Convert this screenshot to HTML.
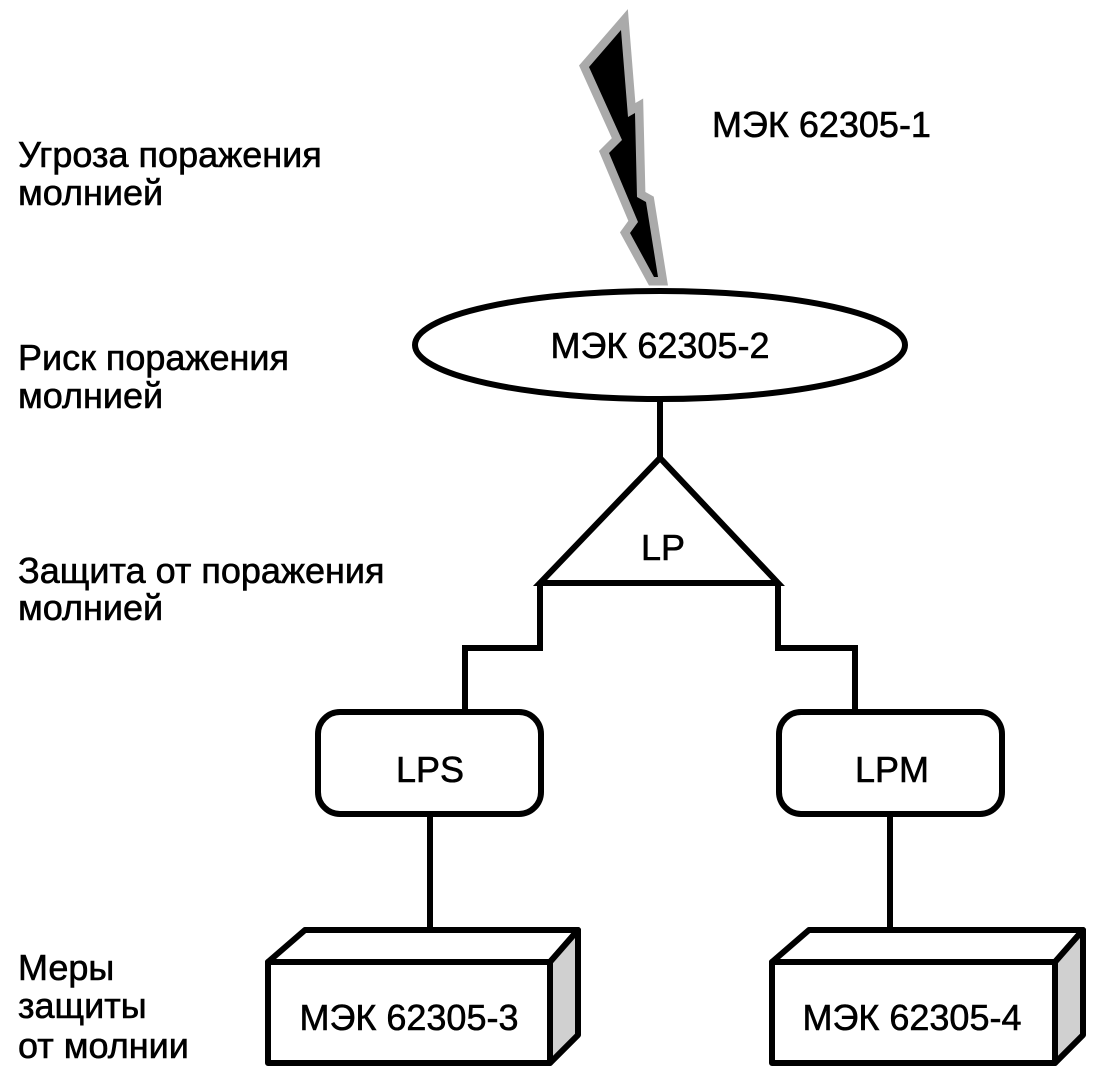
<!DOCTYPE html>
<html><head><meta charset="utf-8"><style>
html,body{margin:0;padding:0;background:#fff;}
svg{display:block;}
text{font-family:"Liberation Sans",Arial,sans-serif;font-size:36px;fill:#000;stroke:#000;stroke-width:0.6px;}
</style></head><body>
<svg width="1099" height="1075" viewBox="0 0 1099 1075" xmlns="http://www.w3.org/2000/svg">
<polygon points="621,30 589,67 622,140 609,153 638,222 630,233 654,277 658,277 646,202 637,197 635,113 628,117" fill="#aaa" stroke="#aaa" stroke-width="17" stroke-linejoin="miter" stroke-miterlimit="3"/>
<polygon points="621,30 589,67 622,140 609,153 638,222 630,233 654,277 658,277 646,202 637,197 635,113 628,117" fill="#000"/>
<ellipse cx="660" cy="345" rx="245" ry="54" fill="#fff" stroke="#000" stroke-width="6"/>
<text x="660" y="358" text-anchor="middle">МЭК 62305-2</text>
<text x="712" y="137">МЭК 62305-1</text>
<g stroke="#000" stroke-width="6" fill="none">
<line x1="660" y1="400" x2="660" y2="460"/>
<polygon points="660,458 540,583 778,583" stroke-linejoin="miter" fill="#fff"/>
<polyline points="540,583 540,648 465,648 465,712"/>
<polyline points="778,583 778,648 855,648 855,712"/>
<rect x="318" y="712" width="223" height="102" rx="22"/>
<rect x="779" y="712" width="223" height="102" rx="22"/>
<line x1="430" y1="814" x2="430" y2="930"/>
<line x1="890" y1="814" x2="890" y2="930"/>
</g>
<text x="663" y="560" text-anchor="middle">LP</text>
<text x="430" y="782" text-anchor="middle">LPS</text>
<text x="892" y="782" text-anchor="middle">LPM</text>
<g stroke="#000" stroke-width="6" stroke-linejoin="round">
<polygon points="268,962 305,930 578,930 550,962" fill="#fff"/>
<polygon points="550,962 578,930 578,1035 550,1063" fill="#d0d0d0"/>
<rect x="268" y="962" width="282" height="101" fill="#fff"/>
<polygon points="772,962 809,930 1083,930 1055,962" fill="#fff"/>
<polygon points="1055,962 1083,930 1083,1035 1055,1063" fill="#d0d0d0"/>
<rect x="772" y="962" width="283" height="101" fill="#fff"/>
</g>
<text x="409" y="1030" text-anchor="middle">МЭК 62305-3</text>
<text x="912" y="1030" text-anchor="middle">МЭК 62305-4</text>
<text x="18" y="167">Угроза поражения</text>
<text x="18" y="205">молнией</text>
<text x="18" y="370">Риск поражения</text>
<text x="18" y="408">молнией</text>
<text x="18" y="583">Защита от поражения</text>
<text x="18" y="620">молнией</text>
<text x="18" y="980">Меры</text>
<text x="18" y="1018">защиты</text>
<text x="18" y="1058">от молнии</text>
</svg>
</body></html>
